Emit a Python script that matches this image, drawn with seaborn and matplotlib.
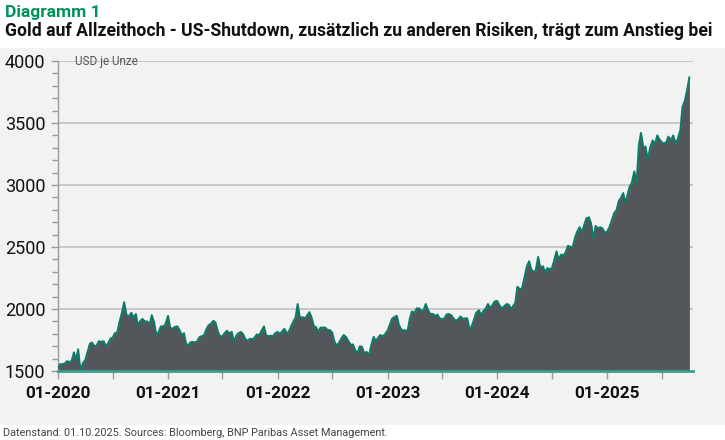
import pandas as pd
import numpy as np
import matplotlib.pyplot as plt
import matplotlib.dates as mdates
from matplotlib.ticker import MultipleLocator
from matplotlib.patches import Rectangle
import seaborn as sns

# gold price, USD per ounce, roughly weekly (days 1, 8, 16, 23 of each month)
gold_2020 = [1520, 1555, 1555, 1560, 1580, 1570, 1585, 1650, 1590, 1675, 1495, 1560,
             1590, 1650, 1720, 1730, 1700, 1705, 1740, 1735, 1740, 1700, 1725, 1760,
             1770, 1805, 1810, 1890, 1975, 2055, 1950, 1940, 1970, 1930, 1960, 1865,
             1905, 1920, 1900, 1900, 1880, 1950, 1890, 1790, 1815, 1860, 1860, 1875]
gold_2021 = [1945, 1850, 1840, 1855, 1860, 1830, 1790, 1805, 1730, 1700, 1730, 1735,
             1730, 1740, 1775, 1780, 1790, 1835, 1870, 1880, 1905, 1890, 1815, 1780,
             1780, 1805, 1825, 1805, 1815, 1735, 1785, 1805, 1815, 1795, 1755, 1745,
             1760, 1755, 1770, 1795, 1790, 1825, 1860, 1790, 1780, 1785, 1780, 1805]
gold_2022 = [1815, 1800, 1820, 1840, 1800, 1825, 1870, 1905, 1930, 2040, 1925, 1935,
             1925, 1945, 1975, 1935, 1860, 1855, 1815, 1850, 1850, 1850, 1830, 1830,
             1810, 1740, 1705, 1725, 1765, 1790, 1775, 1745, 1710, 1715, 1665, 1645,
             1700, 1695, 1640, 1655, 1630, 1710, 1775, 1740, 1770, 1790, 1780, 1795]
gold_2023 = [1825, 1870, 1920, 1935, 1945, 1870, 1835, 1825, 1830, 1815, 1920, 1980,
             1970, 2005, 2005, 1985, 1990, 2040, 1990, 1960, 1960, 1945, 1955, 1925,
             1920, 1920, 1955, 1960, 1950, 1925, 1905, 1915, 1940, 1920, 1925, 1925,
             1835, 1860, 1920, 1970, 1990, 1950, 1985, 2000, 2040, 2010, 2030, 2060]
gold_2024 = [2065, 2030, 2005, 2020, 2040, 2035, 2000, 2025, 2050, 2180, 2160, 2165,
             2260, 2340, 2385, 2320, 2300, 2310, 2420, 2335, 2345, 2295, 2330, 2320,
             2330, 2390, 2465, 2400, 2440, 2430, 2460, 2510, 2500, 2500, 2580, 2625,
             2660, 2620, 2675, 2730, 2740, 2690, 2565, 2670, 2650, 2660, 2650, 2615]
gold_2025 = [2625, 2660, 2715, 2770, 2800, 2870, 2900, 2935, 2860, 2910, 2985, 3015,
             3110, 3000, 3320, 3420, 3300, 3310, 3200, 3300, 3360, 3325, 3400, 3370,
             3345, 3335, 3345, 3390, 3360, 3400, 3335, 3370, 3445, 3630, 3680, 3760,
             3870]

values = gold_2020 + gold_2021 + gold_2022 + gold_2023 + gold_2024 + gold_2025
months = pd.date_range("2020-01-01", "2025-09-01", freq="MS")
dates = [m + pd.Timedelta(days=d) for m in months for d in (0, 7, 15, 22)]
dates.append(pd.Timestamp("2025-10-01"))
df = pd.DataFrame({"date": dates, "price": values})

sns.set_style("white")
plt.rcParams["font.family"] = ["Roboto", "DejaVu Sans"]

fig = plt.figure(figsize=(7.25, 4.4), dpi=100)
fig.patch.set_facecolor("white")
fig.add_artist(Rectangle((0, 15 / 440), 1, (425 - 48) / 440, transform=fig.transFigure,
                         facecolor="#f2f2f2", edgecolor="none", zorder=0))

ax = fig.add_axes([58 / 725, 69 / 440, 635 / 725, 310 / 440])
ax.set_facecolor("none")

ax.fill_between(df["date"], 1500, df["price"], color="#53565a", linewidth=0, zorder=2)
sns.lineplot(data=df, x="date", y="price", ax=ax, color="#0b7a66", linewidth=1.4, zorder=3)

ax.set_ylim(1500, 4000)
ax.set_xlim(pd.Timestamp("2020-01-01"), pd.Timestamp("2025-10-13"))
ax.yaxis.set_major_locator(MultipleLocator(500))
ax.yaxis.set_minor_locator(MultipleLocator(100))
ax.grid(axis="y", color="#c4c4c4", linewidth=1.3, zorder=1)
ax.xaxis.set_major_locator(mdates.MonthLocator(bymonth=1))
ax.xaxis.set_minor_locator(mdates.MonthLocator(bymonth=7))
ax.xaxis.set_major_formatter(mdates.DateFormatter("%m-%Y"))

for s in ["top", "right"]:
    ax.spines[s].set_visible(False)
ax.spines["left"].set_color("#9a9a9a")
ax.spines["left"].set_linewidth(1)
ax.spines["bottom"].set_color("#3aa08c")
ax.spines["bottom"].set_linewidth(2)
ax.spines["bottom"].set_zorder(4)

ax.tick_params(axis="y", which="both", direction="out", left=True, color="#9a9a9a", width=1)
ax.tick_params(axis="y", which="major", length=5, labelsize=13, pad=4, labelcolor="#111111")
ax.tick_params(axis="y", which="minor", length=4)
ax.tick_params(axis="x", which="both", direction="out", bottom=True, color="#9a9a9a", width=1, length=6)
ax.tick_params(axis="x", which="major", labelsize=12.3, pad=5, labelcolor="#111111")
for lab in ax.get_xticklabels():
    lab.set_fontweight("bold")
ax.set_xlabel("")
ax.set_ylabel("")

ax.text(0.027, 1.0, "USD je Unze", transform=ax.transAxes, fontsize=8.5, color="#555555",
        va="center", ha="left", zorder=5)

fig.text(5 / 725, 1 - 12 / 440, "Diagramm 1", fontsize=12.5, fontweight="bold",
         color="#00915a", va="center", ha="left")
fig.text(5 / 725, 1 - 31 / 440,
         "Gold auf Allzeithoch - US-Shutdown, zusätzlich zu anderen Risiken, trägt zum Anstieg bei",
         fontsize=12.7, fontweight="bold", color="#111111", va="center", ha="left")
fig.text(3 / 725, 1 - 433 / 440,
         "Datenstand: 01.10.2025. Sources: Bloomberg, BNP Paribas Asset Management.",
         fontsize=7.8, color="#444444", va="center", ha="left")

fig.savefig("out.png", dpi=100, facecolor=fig.get_facecolor())
